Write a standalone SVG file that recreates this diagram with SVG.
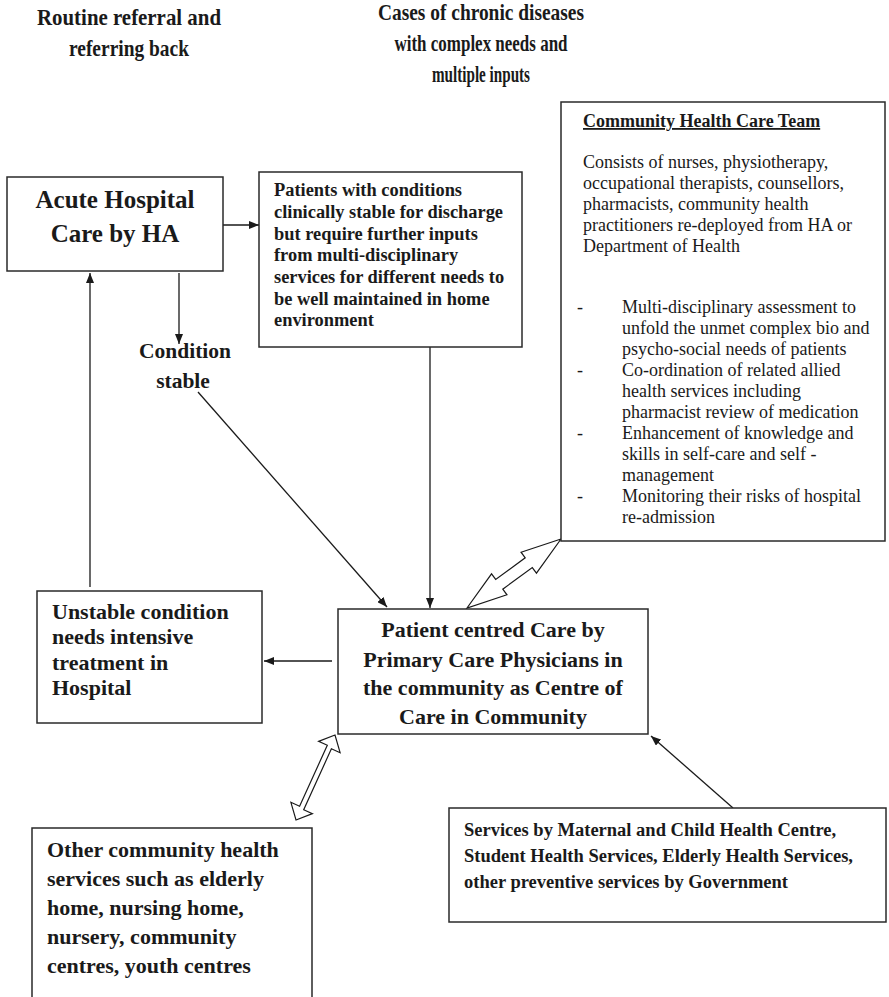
<svg xmlns="http://www.w3.org/2000/svg" width="889" height="997" viewBox="0 0 889 997">
  <defs>
    <marker id="arrow" viewBox="0 0 10 8" refX="10" refY="4" markerWidth="10" markerHeight="8" markerUnits="userSpaceOnUse" orient="auto">
      <path d="M0,0 L10,4 L0,8 Z" fill="#1a1a1a"/>
    </marker>
    <style>
      .box { fill: #ffffff; stroke: #2a2a2a; stroke-width: 1.5; }
      .serif { font-family: "Liberation Serif", "Times New Roman", serif; fill: #1a1a1a; }
      .b { font-weight: bold; }
      .head { font-size: 24px; font-weight: bold; }
      .conn { fill: none; stroke: #1a1a1a; stroke-width: 1.3; marker-end: url(#arrow); }
      .dbl { fill: #ffffff; stroke: #1a1a1a; stroke-width: 1.2; stroke-linejoin: miter; }
    </style>
  </defs>
  <rect width="889" height="997" fill="#ffffff"/>

  <!-- column headings -->
  <g id="heading-left" class="serif head" text-anchor="middle">
    <text x="129" y="25" textLength="184" lengthAdjust="spacingAndGlyphs">Routine referral and</text>
    <text x="129" y="56" textLength="120" lengthAdjust="spacingAndGlyphs">referring back</text>
  </g>
  <g id="heading-right" class="serif head" text-anchor="middle">
    <text x="481" y="20" textLength="206" lengthAdjust="spacingAndGlyphs">Cases of chronic diseases</text>
    <text x="481" y="51" textLength="173" lengthAdjust="spacingAndGlyphs">with complex needs and</text>
    <text x="481" y="82" textLength="98" lengthAdjust="spacingAndGlyphs">multiple inputs</text>
  </g>

  <!-- connectors -->
  <g id="connectors">
    <line class="conn" x1="223" y1="225" x2="259" y2="225"/>
    <line class="conn" x1="179" y1="273" x2="179" y2="344"/>
    <line class="conn" x1="90" y1="587" x2="90" y2="273"/>
    <line class="conn" x1="198" y1="392" x2="387" y2="607"/>
    <line class="conn" x1="430" y1="347" x2="430" y2="608"/>
    <line class="conn" x1="332" y1="661" x2="264" y2="661"/>
    <line class="conn" x1="733" y1="808" x2="651" y2="736"/>
    <!-- two-way links drawn as hollow double arrows -->
    <polygon class="dbl" points="561,539 521.06,552.2 525.21,557.84 495.69,579.48 491.54,573.84 467,608 506.94,594.8 502.79,589.16 532.31,567.52 536.46,573.16"/>
    <polygon class="dbl" points="335,735 318.6,741.4 327.3,745.3 299.6,806.2 290.9,802.3 296,820 312.4,813.6 303.7,809.7 331.4,748.8 340.1,752.7"/>
  </g>

  <!-- Acute Hospital Care -->
  <g id="acute-hospital">
    <rect class="box" x="7" y="177" width="216" height="94"/>
    <g class="serif b" font-size="25" text-anchor="middle">
      <text x="115" y="208">Acute Hospital</text>
      <text x="115" y="242">Care by HA</text>
    </g>
  </g>

  <!-- Condition stable label -->
  <g id="condition-stable" class="serif b" font-size="21.5" text-anchor="middle">
    <text x="185" y="358">Condition</text>
    <text x="183" y="388">stable</text>
  </g>

  <!-- Patients stable for discharge -->
  <g id="discharge-patients">
    <rect class="box" x="259" y="172" width="263" height="175"/>
    <g class="serif b" font-size="18.4">
      <text x="274" y="196">Patients with conditions</text>
      <text x="274" y="218">clinically stable for discharge</text>
      <text x="274" y="240">but require further inputs</text>
      <text x="274" y="261">from multi-disciplinary</text>
      <text x="274" y="283">services for different needs to</text>
      <text x="274" y="305">be well maintained in home</text>
      <text x="274" y="326">environment</text>
    </g>
  </g>

  <!-- Community Health Care Team -->
  <g id="community-team">
    <rect class="box" x="561" y="102" width="324" height="439"/>
    <g class="serif" font-size="18">
      <text x="583" y="127" font-weight="bold" text-decoration="underline">Community Health Care Team</text>
      <text x="583" y="168">Consists of nurses, physiotherapy,</text>
      <text x="583" y="189">occupational therapists, counsellors,</text>
      <text x="583" y="210">pharmacists, community health</text>
      <text x="583" y="231">practitioners re-deployed from HA or</text>
      <text x="583" y="252">Department of Health</text>
      <text x="577" y="313">-</text>
      <text x="622" y="313">Multi-disciplinary assessment to</text>
      <text x="622" y="334">unfold the unmet complex bio and</text>
      <text x="622" y="355">psycho-social needs of patients</text>
      <text x="577" y="376">-</text>
      <text x="622" y="376">Co-ordination of related allied</text>
      <text x="622" y="397">health services including</text>
      <text x="622" y="418">pharmacist review of medication</text>
      <text x="577" y="439">-</text>
      <text x="622" y="439">Enhancement of knowledge and</text>
      <text x="622" y="460">skills in self-care and self -</text>
      <text x="622" y="481">management</text>
      <text x="577" y="502">-</text>
      <text x="622" y="502">Monitoring their risks of hospital</text>
      <text x="622" y="523">re-admission</text>
    </g>
  </g>

  <!-- Unstable condition -->
  <g id="unstable">
    <rect class="box" x="37" y="591" width="225" height="132"/>
    <g class="serif b" font-size="22">
      <text x="52" y="619">Unstable condition</text>
      <text x="52" y="644">needs intensive</text>
      <text x="52" y="670">treatment in</text>
      <text x="52" y="695">Hospital</text>
    </g>
  </g>

  <!-- Primary care centre -->
  <g id="primary-care">
    <rect class="box" x="338" y="609" width="310" height="125"/>
    <g class="serif b" font-size="22" text-anchor="middle">
      <text x="493" y="637">Patient centred Care by</text>
      <text x="493" y="667">Primary Care Physicians in</text>
      <text x="493" y="695">the community as Centre of</text>
      <text x="493" y="724">Care in Community</text>
    </g>
  </g>

  <!-- Government services -->
  <g id="government-services">
    <rect class="box" x="449" y="808" width="437" height="114"/>
    <g class="serif b" font-size="18.5">
      <text x="464" y="836">Services by Maternal and Child Health Centre,</text>
      <text x="464" y="862">Student Health Services, Elderly Health Services,</text>
      <text x="464" y="888">other preventive services by Government</text>
    </g>
  </g>

  <!-- Other community services -->
  <g id="other-community">
    <path class="box" d="M32,1000 L32,828 L312,828 L312,1000"/>
    <g class="serif b" font-size="22">
      <text x="47" y="857">Other community health</text>
      <text x="47" y="886">services such as elderly</text>
      <text x="47" y="915">home, nursing home,</text>
      <text x="47" y="944">nursery, community</text>
      <text x="47" y="973">centres, youth centres</text>
    </g>
  </g>
</svg>
